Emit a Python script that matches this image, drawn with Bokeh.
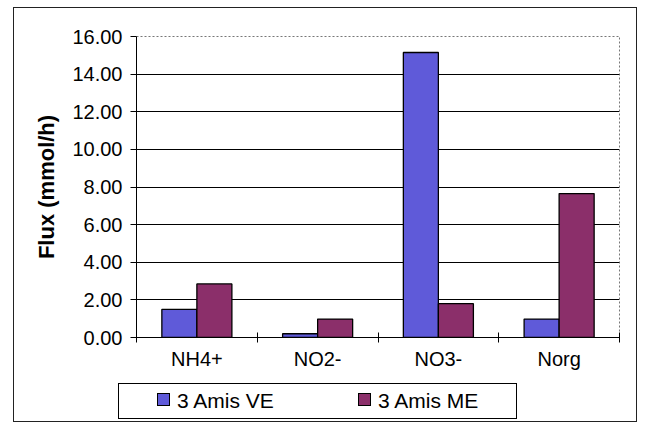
from bokeh.plotting import figure
from bokeh.layouts import column
from bokeh.models import (FixedTicker, PrintfTickFormatter, ColumnDataSource, Div)
from bokeh.embed import file_html
from bokeh.resources import INLINE

categories = ["NH4+", "NO2-", "NO3-", "Norg"]
ve_values = [1.50, 0.20, 15.15, 0.98]
me_values = [2.85, 0.98, 1.80, 7.65]
series_names = ["3 Amis VE", "3 Amis ME"]
y_ticks = [0, 2, 4, 6, 8, 10, 12, 14, 16]

FONT = "Liberation Sans"
BLUE = "#5F5AD9"
MAROON = "#8B2F6A"
bar_w = 0.29

centers = [i + 0.5 for i in range(len(categories))]
src = ColumnDataSource(dict(
    x_ve=[c - bar_w / 2 for c in centers],
    x_me=[c + bar_w / 2 for c in centers],
    ve=ve_values, me=me_values))

p = figure(width=622, height=368, output_backend="svg", toolbar_location=None,
           x_range=(0, len(categories)), y_range=(0, 16),
           min_border_left=122, min_border_right=17, min_border_top=28,
           min_border_bottom=39)
p.background_fill_color = "white"
p.border_fill_color = "white"
p.outline_line_color = "#777777"
p.outline_line_dash = "2 2"

p.vbar(x="x_ve", top="ve", width=bar_w, source=src, fill_color=BLUE,
       line_color="black", line_width=1.3)
p.vbar(x="x_me", top="me", width=bar_w, source=src, fill_color=MAROON,
       line_color="black", line_width=1.3)

# y axis
p.yaxis.ticker = FixedTicker(ticks=y_ticks)
p.yaxis.formatter = PrintfTickFormatter(format="%.2f")
p.yaxis.axis_label = "Flux (mmol/h)"
p.yaxis.axis_label_text_font = FONT
p.yaxis.axis_label_text_font_style = "bold"
p.yaxis.axis_label_text_font_size = "22px"
p.yaxis.axis_label_text_color = "black"
p.yaxis.axis_label_standoff = 10
p.yaxis.major_label_text_font = FONT
p.yaxis.major_label_text_font_size = "20px"
p.yaxis.major_label_text_color = "black"
p.yaxis.major_label_standoff = 8
p.yaxis.major_tick_in = 0
p.yaxis.major_tick_out = 6
p.yaxis.minor_tick_line_color = None
p.yaxis.axis_line_color = "black"
p.yaxis.major_tick_line_color = "black"

# x axis: labels at centers, small ticks at category boundaries
p.xaxis.ticker = FixedTicker(ticks=centers,
                             minor_ticks=list(range(len(categories) + 1)))
p.xaxis.major_label_overrides = {c: lab for c, lab in zip(centers, categories)}
p.xaxis.major_tick_line_color = None
p.xaxis.major_tick_in = 0
p.xaxis.major_tick_out = 5
p.xaxis.minor_tick_in = 5
p.xaxis.minor_tick_out = 5
p.xaxis.minor_tick_line_color = "black"
p.xaxis.major_label_standoff = 5
p.xaxis.major_label_text_font = FONT
p.xaxis.major_label_text_font_size = "20px"
p.xaxis.major_label_text_color = "black"
p.xaxis.axis_line_color = "black"

# grid
p.xgrid.grid_line_color = None
p.ygrid.ticker = FixedTicker(ticks=y_ticks[1:-1])
p.ygrid.grid_line_color = "black"
p.ygrid.grid_line_width = 1

# legend as a boxed HTML panel below the plot
def item(left, color, label):
    return (f'<span style="position:absolute;left:{left}px;top:9px;width:13px;'
            f'height:13px;background:{color};border:1px solid #000;"></span>'
            f'<span style="position:absolute;left:{left + 20}px;top:5px;'
            f'line-height:23px;white-space:nowrap;">{label}</span>')

legend_html = (
    f'<div style="position:relative;box-sizing:border-box;width:399px;height:36px;'
    f'border:1px solid #000;background:white;font-family:\'{FONT}\';'
    f'font-size:21px;color:#000;">'
    + item(38, BLUE, series_names[0])
    + item(239, MAROON, series_names[1])
    + '</div>')
lg = Div(text=legend_html, width=399, height=36, margin=(7, 0, 2, 104))

layout = column(p, lg, spacing=0)
layout.margin = (7, 0, 0, 13)
layout.styles = {"border": "1px solid #222", "background-color": "white"}

open("out.html", "w").write(file_html(layout, INLINE))
